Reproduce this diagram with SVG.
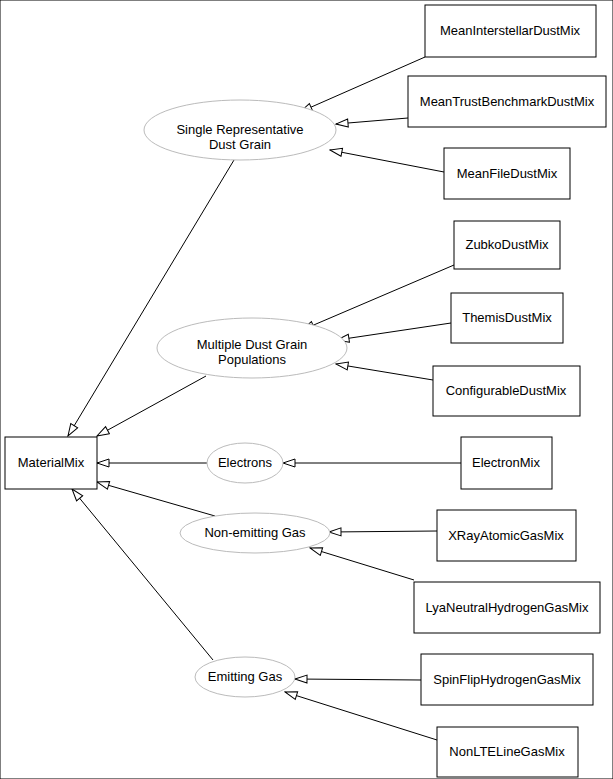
<svg xmlns="http://www.w3.org/2000/svg" width="613" height="779" viewBox="0 0 613 779">
<style>
rect{fill:#fff;stroke:#000;stroke-width:1}
ellipse{fill:#fff;stroke:#bbb;stroke-width:1}
text{font-family:"Liberation Sans",Arial,sans-serif;font-size:13px;text-anchor:middle;fill:#000}
#edges line{stroke:#000;stroke-width:1;marker-end:url(#tri)}
</style>
<defs>
<marker id="tri" markerUnits="userSpaceOnUse" markerWidth="14" markerHeight="12" refX="13" refY="5" orient="auto">
<path d="M1,1 L13,5 L1,9 Z" fill="#fff" stroke="#000"/>
</marker>
</defs>
<rect width="613" height="779" fill="#fff" stroke="none"/>
<g id="edges">
<line x1="425" y1="57" x2="300" y2="112"/>
<line x1="408" y1="118" x2="336" y2="124"/>
<line x1="444" y1="172" x2="330" y2="150"/>
<line x1="454" y1="265" x2="302" y2="330"/>
<line x1="451" y1="323" x2="337" y2="340"/>
<line x1="433" y1="380" x2="336" y2="364"/>
<line x1="461" y1="463" x2="283" y2="463"/>
<line x1="437" y1="531" x2="329" y2="532"/>
<line x1="414" y1="580" x2="310" y2="548"/>
<line x1="421" y1="680" x2="295" y2="679"/>
<line x1="437" y1="740" x2="285" y2="692"/>
<line x1="234" y1="160" x2="68" y2="436"/>
<line x1="206" y1="376" x2="97" y2="436"/>
<line x1="207" y1="463" x2="97" y2="463"/>
<line x1="215" y1="516" x2="97" y2="482"/>
<line x1="213" y1="660" x2="72" y2="489"/>
</g>
<g id="MaterialMix"><rect x="5" y="437" width="92" height="52"/><text x="51" y="467">MaterialMix</text></g>
<g id="MeanInterstellarDustMix"><rect x="425" y="5" width="171" height="52"/><text x="510" y="35">MeanInterstellarDustMix</text></g>
<g id="MeanTrustBenchmarkDustMix"><rect x="408" y="76" width="198" height="51"/><text x="507" y="106">MeanTrustBenchmarkDustMix</text></g>
<g id="MeanFileDustMix"><rect x="444" y="148" width="126" height="51"/><text x="507" y="178">MeanFileDustMix</text></g>
<g id="ZubkoDustMix"><rect x="454" y="221" width="106" height="48"/><text x="507" y="249">ZubkoDustMix</text></g>
<g id="ThemisDustMix"><rect x="451" y="293" width="112" height="50"/><text x="507" y="322">ThemisDustMix</text></g>
<g id="ConfigurableDustMix"><rect x="433" y="366" width="147" height="50"/><text x="506" y="395">ConfigurableDustMix</text></g>
<g id="ElectronMix"><rect x="461" y="437" width="91" height="52"/><text x="506" y="467">ElectronMix</text></g>
<g id="XRayAtomicGasMix"><rect x="437" y="510" width="139" height="51"/><text x="506" y="540">XRayAtomicGasMix</text></g>
<g id="LyaNeutralHydrogenGasMix"><rect x="414" y="582" width="186" height="51"/><text x="507" y="612">LyaNeutralHydrogenGasMix</text></g>
<g id="SpinFlipHydrogenGasMix"><rect x="421" y="654" width="172" height="51"/><text x="507" y="684">SpinFlipHydrogenGasMix</text></g>
<g id="NonLTELineGasMix"><rect x="437" y="727" width="141" height="50"/><text x="507" y="756">NonLTELineGasMix</text></g>
<g id="SingleRep"><ellipse cx="240" cy="130" rx="96" ry="30"/><text><tspan x="240" y="134">Single Representative</tspan><tspan x="240" y="149">Dust Grain</tspan></text></g>
<g id="MultipleDust"><ellipse cx="252" cy="348" rx="95" ry="30"/><text><tspan x="252" y="349">Multiple Dust Grain</tspan><tspan x="252" y="364">Populations</tspan></text></g>
<g id="Electrons"><ellipse cx="245" cy="463" rx="38" ry="20"/><text x="245" y="467">Electrons</text></g>
<g id="NonEmitting"><ellipse cx="255" cy="533" rx="75" ry="20"/><text x="255" y="537">Non-emitting Gas</text></g>
<g id="Emitting"><ellipse cx="245" cy="677" rx="50" ry="20"/><text x="245" y="681">Emitting Gas</text></g>
</svg>
